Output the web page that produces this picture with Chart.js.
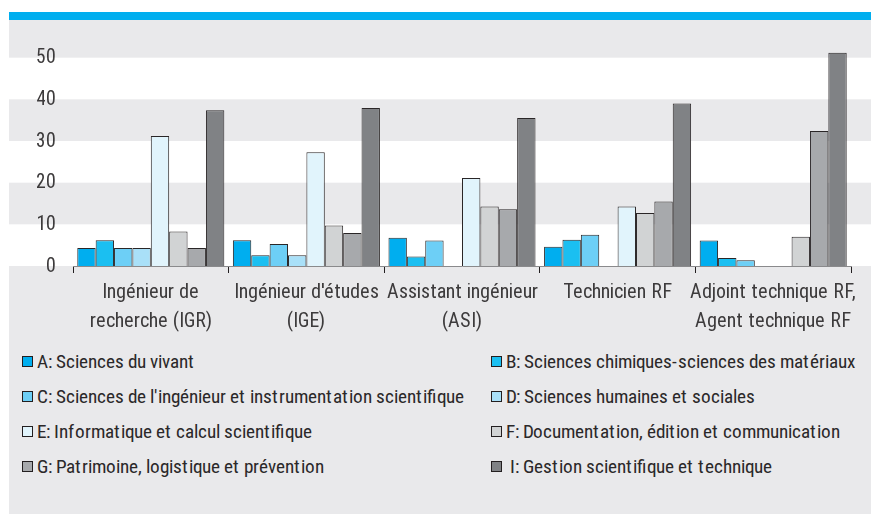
<!DOCTYPE html>
<html>
<head>
<meta charset="utf-8">
<script src="https://cdn.jsdelivr.net/npm/chart.js@4/dist/chart.umd.min.js"></script>
<style>
  @font-face { font-family: "RC"; src: local("Roboto Condensed"), local("RobotoCondensed-Regular"); }
  body { margin: 0; background: #fff; width: 871px; height: 514px; position: relative; overflow: hidden;
         font-family: "RC", "Roboto", sans-serif; color: #231f20; }
  #panel { position: absolute; left: 9px; top: 20px; width: 862px; height: 494px; background: #e9e9eb; }
  #topbar { position: absolute; left: 9px; top: 12px; width: 862px; height: 8px; background: #00aeef; z-index: 3; }
  #wrap { position: absolute; left: 0; top: 0; width: 871px; height: 340px; z-index: 2; }
  #legend { position: absolute; left: 22px; top: 344px; width: 849px; z-index: 2; color: #2b2829;
            display: grid; grid-template-columns: 469px auto; grid-auto-rows: 35px; font-size: 19.2px; }
  #legend div { display: flex; align-items: center; white-space: nowrap; }
  #legend span.box { width: 9px; height: 9px; border: 1px solid #231f20; margin-right: 4px; flex: none; }
</style>
</head>
<body>
<div id="panel"></div>
<div id="topbar"></div>
<div id="wrap"><canvas id="chart"></canvas></div>
<div id="legend"></div>
<script>
const categories = [
  ["Ingénieur de", "recherche (IGR)"],
  ["Ingénieur d'études", "(IGE)"],
  ["Assistant ingénieur", "(ASI)"],
  "Technicien RF",
  ["Adjoint technique RF,", "Agent technique RF"]
];
const seriesNames = [
  "A: Sciences du vivant",
  "B: Sciences chimiques-sciences des matériaux",
  "C: Sciences de l'ingénieur et instrumentation scientifique",
  "D: Sciences humaines et sociales",
  "E: Informatique et calcul scientifique",
  "F: Documentation, édition et communication",
  "G: Patrimoine, logistique et prévention",
  "I: Gestion scientifique et technique"
];
const valsA = [4.3, 6.2, 6.8, 4.6, 6.1];
const valsB = [6.2, 2.6, 2.3, 6.3, 1.9];
const valsC = [4.3, 5.3, 6.1, 7.5, 1.4];
const valsD = [4.3, 2.6, null, null, null];
const valsE = [31.2, 27.3, 21.1, 14.3, null];
const valsF = [8.3, 9.7, 14.3, 12.7, 7.0];
const valsG = [4.3, 7.9, 13.6, 15.5, 32.4];
const valsI = [37.4, 37.9, 35.5, 39.0, 51.2];
const yTicks = [0, 10, 20, 30, 40, 50];

const colors = ["#00aeef", "#1bbff1", "#6dcff6", "#a9e0f8", "#e1f4fc", "#d1d3d4", "#a7a9ac", "#808285"];
const allVals = [valsA, valsB, valsC, valsD, valsE, valsF, valsG, valsI];

// white bands behind the bars, across the whole panel
const bands = {
  id: "bands",
  beforeDraw(chart) {
    const y = chart.scales.y, ctx = chart.ctx;
    ctx.save();
    ctx.fillStyle = "#ffffff";
    [[0, 10], [20, 30], [40, 50]].forEach(b => {
      const top = y.getPixelForValue(b[1]), bot = y.getPixelForValue(b[0]);
      ctx.fillRect(9, top, 862, bot - top);
    });
    ctx.restore();
  }
};

function draw() {
  Chart.defaults.font.family = '"RC", "Roboto", sans-serif';
  Chart.defaults.color = "#3d3b3c";

  new Chart(document.getElementById("chart"), {
    type: "bar",
    data: {
      labels: categories,
      datasets: allVals.map((v, i) => ({
        label: seriesNames[i],
        data: v,
        backgroundColor: colors[i],
        borderColor: "#2a2627",
        borderWidth: 1,
        barPercentage: 1,
        categoryPercentage: 0.945
      }))
    },
    options: {
      responsive: true,
      maintainAspectRatio: false,
      animation: false,
      layout: { padding: { top: 16, right: 20, left: 0, bottom: 0 } },
      plugins: { legend: { display: false }, tooltip: { enabled: false } },
      scales: {
        x: {
          grid: { drawOnChartArea: false, tickLength: 7, color: "#231f20" },
          border: { color: "#8a8a8c" },
          ticks: { font: { size: 20, lineHeight: 1.45 }, padding: 5, color: "#3d3b3c",
                   maxRotation: 0, autoSkip: false },
          afterFit(s) { s.height = 74; s.paddingLeft = 0; s.paddingRight = 0; }
        },
        y: {
          min: 0, max: 60,
          grid: { display: false, drawTicks: false },
          border: { display: false },
          ticks: { font: { size: 19.5 }, padding: 17, color: "#3d3b3c" },
          afterBuildTicks(s) { s.ticks = yTicks.map(v => ({ value: v })); },
          afterFit(s) { s.width = 73; s.paddingTop = 0; s.paddingBottom = 0; }
        }
      }
    },
    plugins: [bands]
  });
}

const leg = document.getElementById("legend");
seriesNames.forEach((n, i) => {
  const d = document.createElement("div");
  const b = document.createElement("span");
  b.className = "box";
  b.style.background = colors[i];
  d.appendChild(b);
  d.appendChild(document.createTextNode((i === 7 ? "\u00a0" : "") + n));
  leg.appendChild(d);
});

document.fonts.load('20px "RC"').then(draw, draw);
</script>
</body>
</html>
